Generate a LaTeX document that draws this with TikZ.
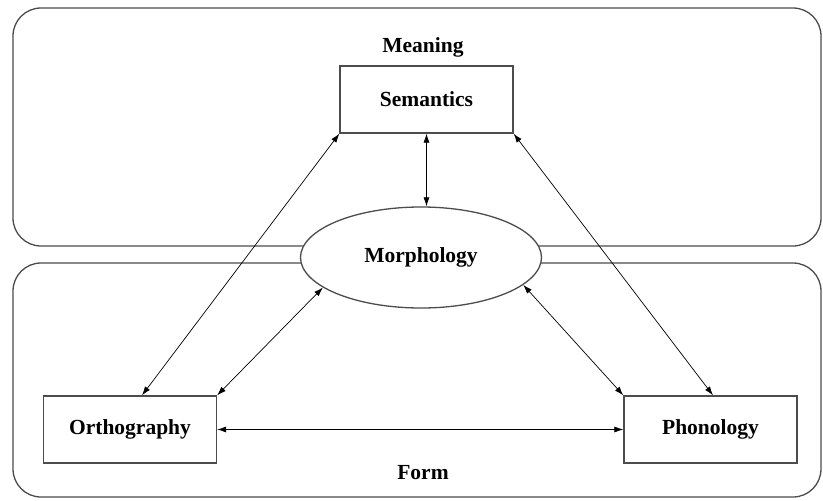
\documentclass[tikz,border=0pt]{standalone}
\usepackage{fontspec}
\setmainfont{Liberation Serif}
\usetikzlibrary{arrows.meta,shapes.geometric}

\begin{document}
\begin{tikzpicture}[x=1pt,y=1pt,yscale=-1,
  layer/.style={draw=black!70,line width=1.3pt,rounded corners=28pt},
  levelbox/.style={draw=black!70,line width=1.3pt,minimum width=173pt,minimum height=67pt,inner sep=0pt,font=\fontsize{21.5}{24}\selectfont\bfseries},
  caption/.style={inner sep=0pt,font=\fontsize{21.5}{24}\selectfont\bfseries},
  link/.style={{Latex[length=9pt,width=6pt]}-{Latex[length=9pt,width=6pt]},line width=0.7pt}]
\useasboundingbox (0,0) rectangle (823,501);

%Rounded Rect: meaning layer
\draw [layer] (13,8) rectangle (821,246);
%Rounded Rect: form layer
\draw [layer] (13,263) rectangle (821,497);

% Text Node
\node [caption,anchor=base] (meaning) at (423,52) {Meaning};
% Text Node
\node [caption,anchor=base] (form) at (423,479) {Form};

%Shape: Rectangle
\node [levelbox] (sem) at (426.5,99.5) {Semantics};
%Shape: Rectangle
\node [levelbox] (ortho) at (130,429.5) {Orthography};
%Shape: Rectangle
\node [levelbox] (phon) at (710.5,429.5) {Phonology};
%Shape: Ellipse
\node [ellipse,draw=black!70,line width=1.3pt,fill=white,minimum width=241pt,minimum height=101pt,inner sep=0pt,font=\fontsize{21.5}{24}\selectfont\bfseries] (morph) at (421,257.5) {Morphology};

%Straight Lines
\draw [link] (sem.south west) -- ([xshift=12pt]ortho.north);
\draw [link] (sem.south east) -- ([xshift=2.5pt]phon.north);
\draw [link] (sem.south) -- (sem.south |- morph.north);
\draw [link] (morph.-163) -- (ortho.north east);
\draw [link] (morph.-15) -- (phon.north west);
\draw [link] (ortho.east) -- (phon.west);

\end{tikzpicture}
\end{document}
